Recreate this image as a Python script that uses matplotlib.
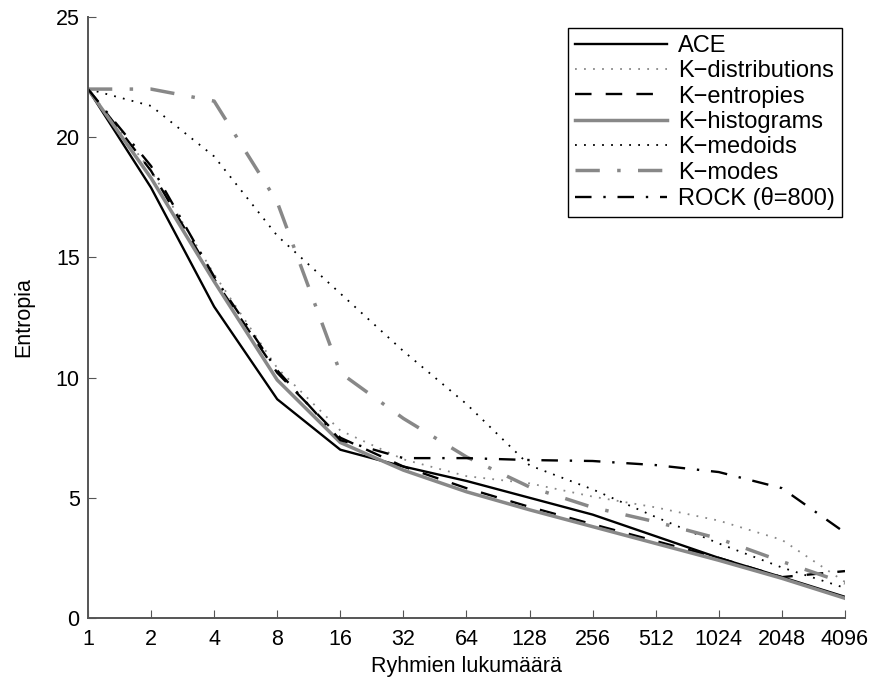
import numpy as np
import matplotlib
matplotlib.use('Agg')
import matplotlib.pyplot as plt

plt.rcParams['font.family'] = ['Liberation Sans', 'DejaVu Sans']

# Ryhmien lukumaara (log2 scale)
groups = [1, 2, 4, 8, 16, 32, 64, 128, 256, 512, 1024, 2048, 4096]
tick_labels = [str(g) for g in groups]

ace = [22.0, 17.9, 12.95, 9.1, 7.0, 6.3, 5.7, 5.0, 4.3, 3.4, 2.5, 1.7, 0.88]
k_distributions = [22.0, 18.6, 14.3, 10.4, 7.8, 6.6, 5.9, 5.6, 5.05, 4.6, 4.05, 3.25, 1.5]
k_entropies = [22.0, 18.6, 14.1, 10.2, 7.5, 6.3, 5.4, 4.62, 3.9, 3.2, 2.5, 1.7, 1.95]
k_histograms = [22.0, 18.3, 14.0, 9.9, 7.3, 6.15, 5.25, 4.5, 3.8, 3.1, 2.4, 1.65, 0.82]
k_medoids = [22.0, 21.3, 19.2, 15.9, 13.5, 11.1, 8.9, 6.35, 5.35, 4.2, 3.1, 2.1, 1.25]
k_modes = [22.0, 22.0, 21.5, 17.3, 10.2, 8.3, 6.7, 5.45, 4.6, 4.0, 3.3, 2.35, 1.45]
rock = [22.0, 18.8, 14.2, 10.3, 7.4, 6.65, 6.65, 6.57, 6.53, 6.36, 6.07, 5.4, 3.55]

gray = '#888888'
x = np.arange(len(groups))

fig = plt.figure(figsize=(8.77, 6.84), dpi=100)
ax = fig.add_axes([0.1003, 0.0965, 0.8632, 0.8787])

ax.plot(x, ace, color='black', lw=1.7, label='ACE')
ax.plot(x, k_distributions, color=gray, lw=1.3, dashes=(1, 4), label='K\u2212distributions')
ax.plot(x, k_entropies, color='black', lw=1.7, dashes=(7, 6), label='K\u2212entropies')
ax.plot(x, k_histograms, color=gray, lw=2.5, label='K\u2212histograms')
ax.plot(x, k_medoids, color='black', lw=1.3, dashes=(1, 4), label='K\u2212medoids')
ax.plot(x, k_modes, color=gray, lw=2.5, dashes=(7, 5, 1, 5), label='K\u2212modes')
ax.plot(x, rock, color='black', lw=1.7, dashes=(7, 5, 1, 5), label='ROCK (\u03b8=800)')

ax.set_xlim(0, len(groups) - 1)
ax.set_ylim(0, 25)
ax.set_xticks(x)
ax.set_xticklabels(tick_labels)
ax.set_yticks([0, 5, 10, 15, 20, 25])
ax.tick_params(direction='in', length=6, color='#555555', labelsize=15.5)
ax.tick_params(axis='x', pad=8)
ax.tick_params(axis='y', pad=6)

for s in ['top', 'right']:
    ax.spines[s].set_visible(False)
for s in ['left', 'bottom']:
    ax.spines[s].set_color('#555555')
    ax.spines[s].set_linewidth(1.4)

ax.set_xlabel('Ryhmien lukumäärä', fontsize=15.5, labelpad=4)
ax.set_ylabel('Entropia', fontsize=15.5, labelpad=15)

leg = ax.legend(loc='upper right', bbox_to_anchor=(0.996, 0.9817), fontsize=17,
                handlelength=3.9, handletextpad=0.45, labelspacing=0.14,
                borderpad=0.3, borderaxespad=0.0, fancybox=False, framealpha=1)
leg.get_frame().set_edgecolor('black')
leg.get_frame().set_linewidth(1.0)

plt.savefig('out.png', dpi=100)
